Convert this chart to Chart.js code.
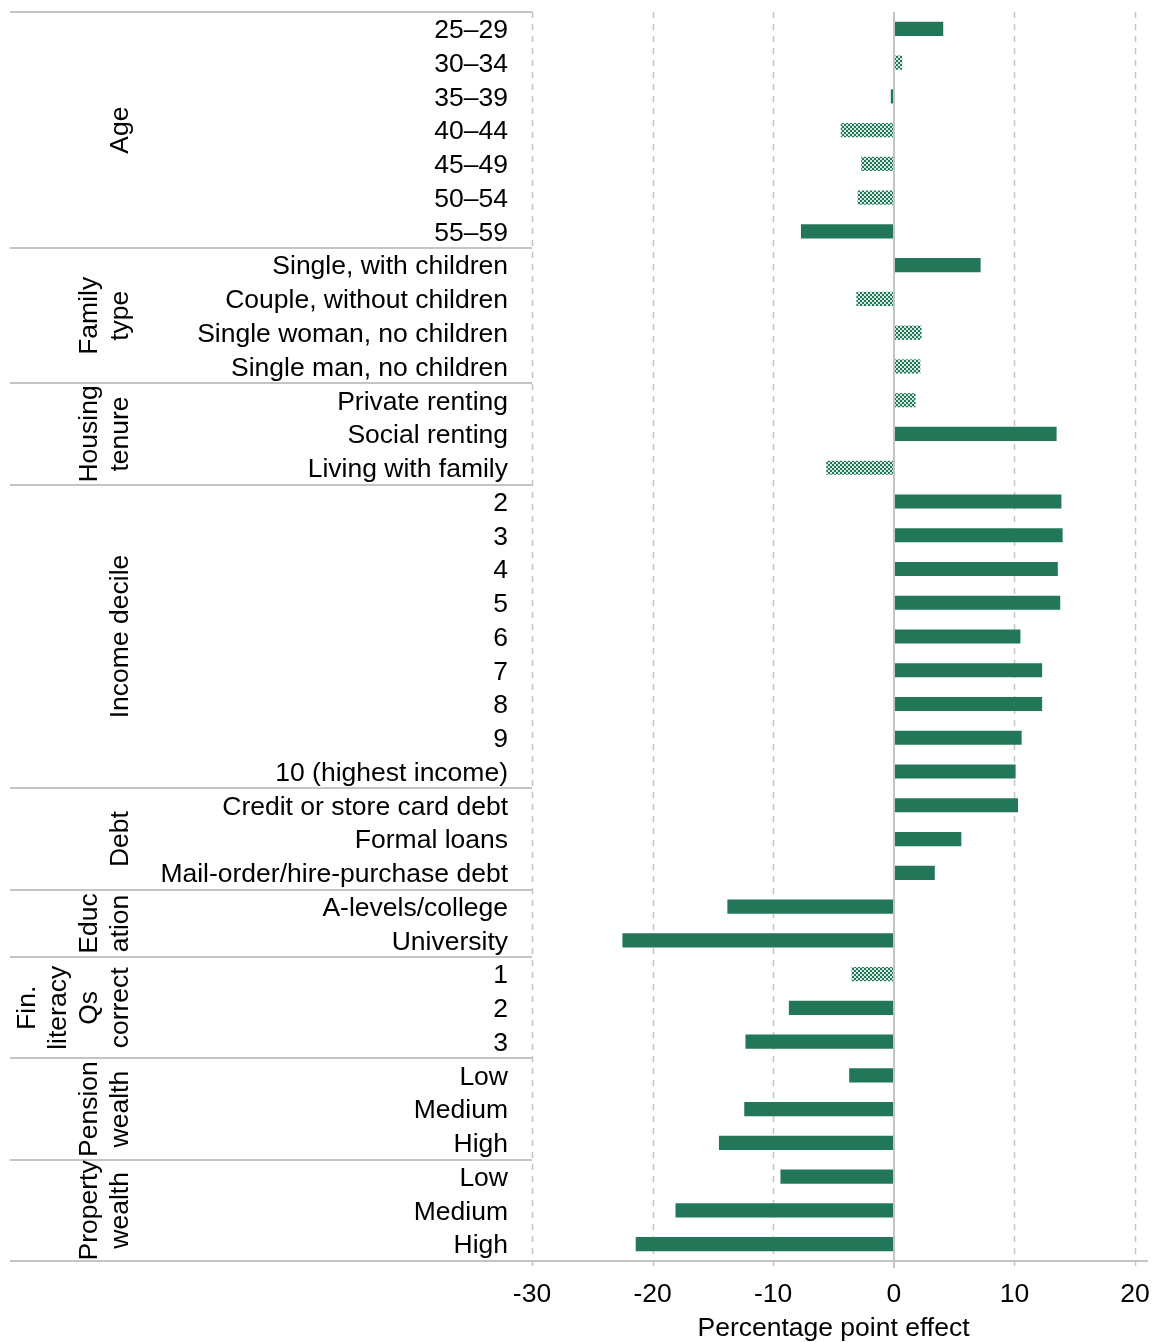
<!DOCTYPE html>
<html>
<head>
<meta charset="utf-8">
<script src="https://cdn.jsdelivr.net/npm/chart.js@4"></script>
<style>
  html, body { margin: 0; padding: 0; background: #fff; }
  #wrap { width: 1158px; height: 1342px; }
</style>
</head>
<body>
<div id="wrap"><canvas id="chart" width="1158" height="1342"></canvas></div>
<script>
// category labels, top to bottom
const labels = [
  '25–29', '30–34', '35–39', '40–44', '45–49', '50–54', '55–59',
  'Single, with children', 'Couple, without children', 'Single woman, no children', 'Single man, no children',
  'Private renting', 'Social renting', 'Living with family',
  '2', '3', '4', '5', '6', '7', '8', '9', '10 (highest income)',
  'Credit or store card debt', 'Formal loans', 'Mail-order/hire-purchase debt',
  'A-levels/college', 'University',
  '1', '2', '3',
  'Low', 'Medium', 'High',
  'Low', 'Medium', 'High'
];

// percentage point effects
const effects = [
  4.1, 0.7, -0.25, -4.4, -2.7, -3.0, -7.7,
  7.2, -3.1, 2.3, 2.2,
  1.8, 13.5, -5.6,
  13.9, 14.0, 13.6, 13.8, 10.5, 12.3, 12.3, 10.6, 10.1,
  10.3, 5.6, 3.4,
  -13.8, -22.5,
  -3.5, -8.7, -12.3,
  -3.7, -12.4, -14.5,
  -9.4, -18.1, -21.4
];

// true = statistically significant (solid), false = hatched
const significant = [
  true, false, true, false, false, false, true,
  true, false, false, false,
  false, true, false,
  true, true, true, true, true, true, true, true, true,
  true, true, true,
  true, true,
  false, true, true,
  true, true, true,
  true, true, true
];

// group names (lines of the rotated label) and how many rows each spans
const groupNames = [
  ['Age'], ['Family', 'type'], ['Housing', 'tenure'], ['Income decile'], ['Debt'],
  ['Educ', 'ation'], ['Fin.', 'literacy', 'Qs', 'correct'], ['Pension', 'wealth'], ['Property', 'wealth']
];
const groupSizes = [7, 4, 3, 9, 3, 2, 3, 3, 3];

const xTicks = [-30, -20, -10, 0, 10, 20];

const GREEN = '#237759';
const GRID = '#c4c4c4';
const FONT = '"Liberation Sans", Arial, sans-serif';
const FSIZE = 26.5;

function makeHatch() {
  const c = document.createElement('canvas');
  c.width = 4; c.height = 4;
  const g = c.getContext('2d');
  g.fillStyle = '#d6e8df';
  g.fillRect(0, 0, 4, 4);
  g.fillStyle = GREEN;
  g.fillRect(0, 0, 2, 2);
  g.fillRect(2, 2, 2, 2);
  return g.createPattern(c, 'repeat');
}

const hatch = makeHatch();

const decorations = {
  id: 'decorations',
  beforeDatasetsDraw(chart) {
    const ctx = chart.ctx;
    const x = chart.scales.x;
    const area = chart.chartArea;
    ctx.save();
    ctx.strokeStyle = GRID;
    ctx.lineWidth = 1.5;
    ctx.setLineDash([6, 6]);
    xTicks.forEach(v => {
      if (v === 0) return;
      const px = Math.round(x.getPixelForValue(v)) + 0.5;
      ctx.beginPath();
      ctx.moveTo(px, area.top);
      ctx.lineTo(px, area.bottom + 7);
      ctx.stroke();
    });
    ctx.restore();
  },
  afterDatasetsDraw(chart) {
    const ctx = chart.ctx;
    const x = chart.scales.x;
    const y = chart.scales.y;
    const area = chart.chartArea;
    ctx.save();
    // zero line
    ctx.strokeStyle = GRID;
    ctx.lineWidth = 2;
    const zx = Math.round(x.getPixelForValue(0));
    ctx.beginPath();
    ctx.moveTo(zx, area.top);
    ctx.lineTo(zx, area.bottom + 7);
    ctx.stroke();

    // bottom axis line
    ctx.beginPath();
    ctx.moveTo(10, area.bottom);
    ctx.lineTo(1148, area.bottom);
    ctx.stroke();

    // group separators and rotated group labels
    const step = y.getPixelForValue(1) - y.getPixelForValue(0);
    let start = 0;
    groupSizes.forEach((n, gi) => {
      const top = y.getPixelForValue(start) - step / 2;
      const bottom = y.getPixelForValue(start + n - 1) + step / 2;
      ctx.strokeStyle = GRID;
      ctx.lineWidth = 2;
      ctx.beginPath();
      ctx.moveTo(10, Math.round(top));
      ctx.lineTo(area.left, Math.round(top));
      ctx.stroke();

      const lines = groupNames[gi];
      const cy = (top + bottom) / 2;
      ctx.fillStyle = '#000';
      ctx.font = FSIZE + 'px ' + FONT;
      ctx.textAlign = 'center';
      ctx.textBaseline = 'middle';
      lines.forEach((t, li) => {
        const cx = 121 - (lines.length - 1 - li) * 31;
        ctx.save();
        ctx.translate(cx, cy);
        ctx.rotate(-Math.PI / 2);
        ctx.fillText(t, 0, 0);
        ctx.restore();
      });
      start += n;
    });
    ctx.restore();
  }
};

new Chart(document.getElementById('chart'), {
  type: 'bar',
  data: {
    labels: labels,
    datasets: [{
      data: effects,
      backgroundColor: significant.map(s => s ? GREEN : hatch),
      borderWidth: 0,
      barPercentage: 0.42,
      categoryPercentage: 1
    }]
  },
  options: {
    indexAxis: 'y',
    responsive: false,
    animation: false,
    events: [],
    layout: { padding: { top: 12, right: 23, left: 0, bottom: 0 } },
    plugins: {
      legend: { display: false },
      tooltip: { enabled: false }
    },
    scales: {
      x: {
        min: -30,
        max: 20,
        afterBuildTicks(scale) {
          scale.ticks = xTicks.map(v => ({ value: v }));
        },
        afterFit(scale) {
          scale.height = 81;
          scale.paddingLeft = 0;
          scale.paddingRight = 0;
        },
        grid: { display: false, drawTicks: false },
        border: { display: false },
        ticks: {
          color: '#000',
          font: { family: FONT, size: FSIZE },
          padding: 18,
          maxRotation: 0
        },
        title: {
          display: true,
          text: 'Percentage point effect',
          color: '#000',
          font: { family: FONT, size: FSIZE },
          padding: { top: 0, bottom: -3 }
        }
      },
      y: {
        afterFit(scale) {
          scale.width = 532;
          scale.paddingTop = 0;
          scale.paddingBottom = 0;
        },
        grid: { display: false, drawTicks: false },
        border: { display: false },
        ticks: {
          color: '#000',
          font: { family: FONT, size: FSIZE },
          padding: 24,
          labelOffset: 2,
          autoSkip: false
        }
      }
    }
  },
  plugins: [decorations]
});
</script>
</body>
</html>
